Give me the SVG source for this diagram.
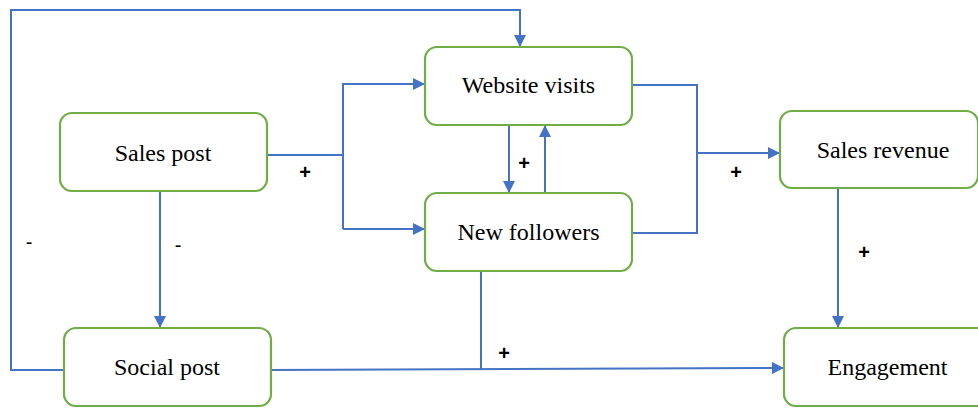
<svg xmlns="http://www.w3.org/2000/svg" width="978" height="408" viewBox="0 0 978 408">
  <style>
    .box { fill: #ffffff; stroke: #70AD47; stroke-width: 2.2; }
    .lbl { font-family: "Liberation Serif", "Times New Roman", serif; font-size: 24px; fill: #000000; text-anchor: middle; }
    .sign { font-family: "Liberation Sans", Arial, sans-serif; font-size: 20px; font-weight: bold; fill: #000000; text-anchor: middle; }
    .minus { font-weight: normal; }
    .wire { fill: none; stroke: #4472C4; stroke-width: 2; }
  </style>
  <defs>
    <marker id="arrow" markerUnits="userSpaceOnUse" markerWidth="12" markerHeight="12" refX="11" refY="6" orient="auto">
      <path d="M0,0 L12,6 L0,12 z" fill="#4472C4"/>
    </marker>
  </defs>
  <rect width="978" height="408" fill="#ffffff"/>

  <g id="connectors">
    <!-- Social post back up to Website visits -->
    <path class="wire" d="M64,370 H11 V10 H520 V46" marker-end="url(#arrow)"/>
    <!-- Sales post fans out to Website visits and New followers -->
    <path class="wire" d="M267,155 H343"/>
    <path class="wire" d="M343,229 V84 H424" marker-end="url(#arrow)"/>
    <path class="wire" d="M343,229 H424" marker-end="url(#arrow)"/>
    <!-- Sales post to Social post -->
    <path class="wire" d="M160,191 V327" marker-end="url(#arrow)"/>
    <!-- Website visits <-> New followers -->
    <path class="wire" d="M509,125 V192" marker-end="url(#arrow)"/>
    <path class="wire" d="M545,193 V126" marker-end="url(#arrow)"/>
    <!-- Website visits and New followers join into Sales revenue -->
    <path class="wire" d="M632,85 H697 V233 H632"/>
    <path class="wire" d="M697,153 H779" marker-end="url(#arrow)"/>
    <!-- Sales revenue to Engagement -->
    <path class="wire" d="M838,188 V327" marker-end="url(#arrow)"/>
    <!-- Social post to Engagement, New followers joins it -->
    <path class="wire" d="M270,370 L783,368" marker-end="url(#arrow)"/>
    <path class="wire" d="M481,271 V369"/>
  </g>

  <g id="sales-post">
    <rect class="box" x="60" y="113" width="207" height="78" rx="12"/>
    <text class="lbl" x="163" y="161">Sales post</text>
  </g>
  <g id="website-visits">
    <rect class="box" x="425" y="47" width="207" height="78" rx="12"/>
    <text class="lbl" x="528.5" y="93">Website visits</text>
  </g>
  <g id="new-followers">
    <rect class="box" x="425" y="193" width="207" height="78" rx="12"/>
    <text class="lbl" x="528.5" y="240">New followers</text>
  </g>
  <g id="social-post">
    <rect class="box" x="64" y="328" width="207" height="78" rx="12"/>
    <text class="lbl" x="167" y="375">Social post</text>
  </g>
  <g id="sales-revenue">
    <rect class="box" x="780" y="111" width="198" height="77" rx="12"/>
    <text class="lbl" x="883" y="158">Sales revenue</text>
  </g>
  <g id="engagement">
    <rect class="box" x="784" y="328" width="215" height="78" rx="12"/>
    <text class="lbl" x="887.5" y="375">Engagement</text>
  </g>

  <g id="signs">
    <text class="sign" x="305" y="179">+</text>
    <text class="sign" x="524" y="170">+</text>
    <text class="sign" x="736" y="179">+</text>
    <text class="sign" x="864" y="259">+</text>
    <text class="sign" x="504" y="360">+</text>
    <text class="sign minus" x="29" y="249">-</text>
    <text class="sign minus" x="178" y="252">-</text>
  </g>
</svg>
